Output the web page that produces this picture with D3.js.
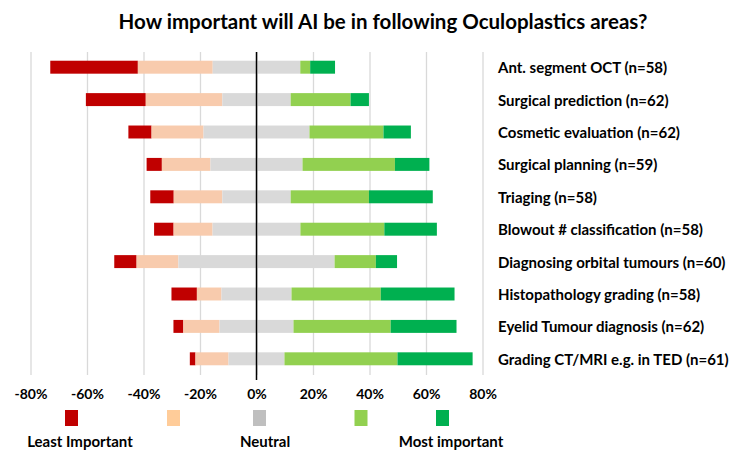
<!DOCTYPE html>
<html>
<head>
<meta charset="utf-8">
<script src="https://cdn.jsdelivr.net/npm/d3@7"></script>
<style>
  body { margin: 0; background: #fff; }
  svg { font-family: Lato, "Open Sans", sans-serif; }
</style>
</head>
<body>
<div id="chart"></div>
<script>
// survey areas, top to bottom
const categories = [
    "Ant. segment OCT (n=58)",
    "Surgical prediction (n=62)",
    "Cosmetic evaluation (n=62)",
    "Surgical planning (n=59)",
    "Triaging (n=58)",
    "Blowout # classification (n=58)",
    "Diagnosing orbital tumours (n=60)",
    "Histopathology grading (n=58)",
    "Eyelid Tumour diagnosis (n=62)",
    "Grading CT/MRI e.g. in TED (n=61)"
];

// share of answers in percent, from least to most important
const leastImportant = [31.0, 21.2, 8.2, 5.4, 8.3, 6.9, 7.9, 9.0, 3.5, 2.0];
const lessImportant  = [26.5, 27.1, 18.4, 17.2, 17.2, 13.8, 14.8, 8.7, 12.8, 11.7];
const neutral        = [31.0, 24.2, 37.5, 32.6, 24.2, 31.1, 55.3, 24.8, 26.2, 19.8];
const important      = [3.5, 21.2, 26.2, 32.7, 27.7, 29.7, 14.6, 31.6, 34.4, 40.0];
const mostImportant  = [8.8, 6.5, 9.7, 12.2, 22.6, 18.6, 7.5, 26.1, 23.3, 26.6];

const tickValues = [-80, -60, -40, -20, 0, 20, 40, 60, 80];

const barColors = ["#c00000", "#f8cbad", "#d9d9d9", "#92d050", "#00b050"];
const legendColors = ["#c00000", "#ffcc99", "#bfbfbf", "#92d050", "#00b050"];
const legendLabels = ["Least Important", "", "Neutral", "", "Most important"];

const W = 750, H = 466;

const svg = d3.select("#chart").append("svg")
    .attr("width", W)
    .attr("height", H);

const x = d3.scaleLinear()
    .domain([-80, 80])
    .range([30.5, 482.5]);

const y = d3.scaleBand()
    .domain(categories)
    .range([51, 375])
    .paddingInner(0.6)
    .paddingOuter(0.3);

// title
svg.append("text")
    .attr("x", 383)
    .attr("y", 21)
    .attr("text-anchor", "middle")
    .attr("dominant-baseline", "central")
    .style("font-size", "20.5px")
    .style("font-weight", "bold")
    .text("How important will AI be in following Oculoplastics areas?");

// grid + tick labels
const xAxis = svg.append("g")
    .attr("transform", "translate(0,375)")
    .call(d3.axisBottom(x)
        .tickValues(tickValues)
        .tickSizeInner(-323)
        .tickSizeOuter(0)
        .tickPadding(14)
        .tickFormat(d => d + "%"));

xAxis.select(".domain").remove();
xAxis.selectAll(".tick line")
    .attr("stroke", "#d9d9d9")
    .attr("stroke-width", 1.3);
xAxis.selectAll(".tick text")
    .attr("fill", "#000")
    .style("font-size", "14px")
    .style("font-weight", "bold")
    .style("font-family", "Lato, sans-serif");

// build the rows: neutral split half each side of zero
const rows = categories.map((c, i) => {
    const vals = [leastImportant[i], lessImportant[i], neutral[i], important[i], mostImportant[i]];
    let start = -(vals[0] + vals[1] + vals[2] / 2);
    return vals.map((v, k) => {
        const seg = { cat: c, k: k, x0: start, x1: start + v };
        start += v;
        return seg;
    });
});

svg.append("g")
    .selectAll("g")
    .data(rows)
    .join("g")
    .selectAll("rect")
    .data(d => d)
    .join("rect")
    .attr("x", d => x(d.x0))
    .attr("width", d => x(d.x1) - x(d.x0))
    .attr("y", d => y(d.cat))
    .attr("height", y.bandwidth())
    .attr("fill", d => barColors[d.k]);

// zero line
svg.append("line")
    .attr("x1", x(0))
    .attr("x2", x(0))
    .attr("y1", 52)
    .attr("y2", 380)
    .attr("stroke", "#000")
    .attr("stroke-width", 1.5);

// category labels on the right
svg.append("g")
    .selectAll("text")
    .data(categories)
    .join("text")
    .attr("x", 498)
    .attr("y", d => y(d) + y.bandwidth() / 2)
    .attr("dominant-baseline", "central")
    .style("font-size", "15px")
    .style("font-weight", "bold")
    .text(d => d);

// legend
const legendSquareX = [71.5, 173.5, 259.5, 361, 442.5];
const legend = svg.append("g");

legend.selectAll("rect")
    .data(legendColors)
    .join("rect")
    .attr("x", (d, i) => legendSquareX[i] - 6.5)
    .attr("y", 410)
    .attr("width", 13)
    .attr("height", 16)
    .attr("fill", d => d);

const legendTextX = [80, 0, 265, 0, 451];
legend.selectAll("text")
    .data(legendLabels)
    .join("text")
    .attr("x", (d, i) => legendTextX[i])
    .attr("y", 441)
    .attr("text-anchor", "middle")
    .attr("dominant-baseline", "central")
    .style("font-size", "15px")
    .style("font-weight", "bold")
    .text(d => d);
</script>
</body>
</html>
